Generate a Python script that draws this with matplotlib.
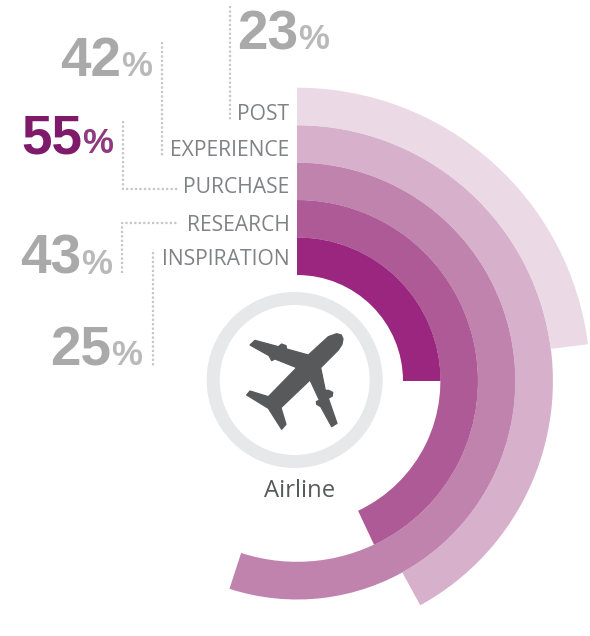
import numpy as np
import matplotlib
matplotlib.use("Agg")
import matplotlib.pyplot as plt
from matplotlib.path import Path
from matplotlib.patches import PathPatch, Circle
from matplotlib.transforms import Affine2D

W, H = 590, 636
# ---- data ----
categories = ["INSPIRATION", "RESEARCH", "PURCHASE", "EXPERIENCE", "POST"]
values = [25, 43, 55, 42, 23]
colors = ["#9a2680", "#ae5a96", "#c083ae", "#d7b0cc", "#ebd9e6"]
center_label = "Airline"

fig = plt.figure(figsize=(W / 100, H / 100), dpi=100, facecolor="white")
px = Affine2D().scale(1, -1).translate(0, H)  # pixel coords, y down

# ---- radial bars ----
cx, cy, R = 297, 381, 300
ax = fig.add_axes([(cx - R) / W, (H - cy - R) / H, 2 * R / W, 2 * R / H], projection="polar")
ax.set_theta_zero_location("N")
ax.set_theta_direction(-1)
ax.set_ylim(0, R)
ax.set_axis_off()
ax.patch.set_alpha(0)
inner, band = 106, 37.4
for i, (v, c) in enumerate(zip(values, colors)):
    ax.bar(0, band + 0.3, width=v / 100 * 2 * np.pi, bottom=inner + i * band,
           align="edge", color=c, linewidth=0)

# ---- centre ring ----
fig.add_artist(Circle((294.7, 380), 81.5, transform=px, fill=False, ec="#e7e8ea", lw=13 * 0.72))

# ---- plane icon (outline traced in 3x crop coordinates) ----
plane = [(410, 146), (424, 150), (429, 162), (426, 178), (415, 195), (362, 248), (376, 316), (386, 316),
         (398, 322), (397, 333), (385, 340), (411, 415), (395, 425), (362, 365), (350, 358), (349, 350),
         (358, 345), (330, 285), (243, 368), (258, 418), (245, 433), (205, 370), (140, 330), (150, 318),
         (205, 335), (290, 248), (225, 222), (215, 227), (207, 212), (150, 180), (165, 166), (235, 185),
         (245, 177), (258, 182), (260, 192), (325, 210), (385, 155), (410, 146)]
pts = [(x / 3 + 200, y / 3 + 285) for x, y in plane]
fig.add_artist(PathPatch(Path(pts, closed=True), transform=px, fc="#58595b", ec="#58595b", lw=0.9,
                         joinstyle="round"))

fig.text(299.5, 497, center_label, transform=px, ha="center", va="baseline",
         family="Open Sans", fontsize=17.2, color="#58595b")

# ---- category labels ----
label_base = {"POST": 119.5, "EXPERIENCE": 156, "PURCHASE": 193, "RESEARCH": 231, "INSPIRATION": 265}
for name in categories:
    fig.text(289.5, label_base[name], name, transform=px, ha="right", va="baseline",
             family="Open Sans", fontsize=15.2, color="#808285")

# ---- percentages ----
num_pos = {"POST": (298, 49), "EXPERIENCE": (121, 76), "PURCHASE": (82, 153),
           "RESEARCH": (81, 274), "INSPIRATION": (111, 365)}
for name, v in zip(categories, values):
    x, y = num_pos[name]
    c1, c2 = ("#7f1a6b", "#8f3a80") if name == "PURCHASE" else ("#a9a9a9", "#b9b9b9")
    fig.text(x, y, str(v), transform=px, ha="right", va="baseline", family="Liberation Sans",
             weight="bold", fontsize=39.5, color=c1)
    fig.text(x, y, "%", transform=px, ha="left", va="baseline", family="Liberation Sans",
             weight="bold", fontsize=25, color=c2)

# ---- dotted leaders ----
leaders = [[(230, 6), (230, 120)],
           [(161.5, 42), (161.5, 156)],
           [(122.5, 121), (122.5, 189), (178, 189)],
           [(122, 273), (122, 223), (178, 223)],
           [(153, 252), (153, 366)]]
for seg in leaders:
    xs, ys = zip(*seg)
    fig.add_artist(plt.Line2D(xs, ys, transform=px, color="#c6c6c6", lw=1.6,
                              linestyle=(0, (1, 1))))

fig.savefig("out.png", dpi=100, facecolor="white")
